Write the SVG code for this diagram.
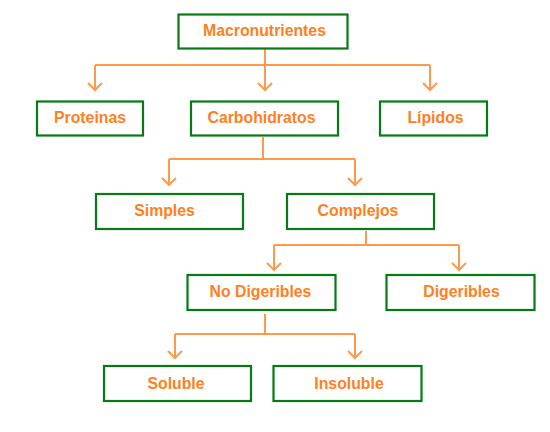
<svg xmlns="http://www.w3.org/2000/svg" width="550" height="432" viewBox="0 0 550 432">
<defs>
<style>
.box{fill:#fff;stroke:#087A14;stroke-width:2.2}
.lbl{font-family:"Liberation Sans",Arial,sans-serif;font-weight:bold;font-size:15.8px;fill:#FF8022;text-anchor:middle}
.ln{fill:none;stroke:#FF9A4C;stroke-width:2}
</style>
</defs>
<rect width="550" height="432" fill="#fff"/>
<g id="connectors">
<path class="ln" d="M265,49 V65 M95,65 H430"/>
<path class="ln" d="M95,65 V90 M88,83 L95,90 L102,83"/>
<path class="ln" d="M265,65 V90 M258,83 L265,90 L272,83"/>
<path class="ln" d="M430,65 V90 M423,83 L430,90 L437,83"/>
<path class="ln" d="M263,137 V159 M169,159 H355"/>
<path class="ln" d="M169,159 V185 M162,178 L169,185 L176,178"/>
<path class="ln" d="M355,159 V185 M348,178 L355,185 L362,178"/>
<path class="ln" d="M366,231 V245 M274,245 H459"/>
<path class="ln" d="M274,245 V270 M267,263 L274,270 L281,263"/>
<path class="ln" d="M459,245 V270 M452,263 L459,270 L466,263"/>
<path class="ln" d="M265,314 V334 M175,334 H355"/>
<path class="ln" d="M175,334 V358 M168,351 L175,358 L182,351"/>
<path class="ln" d="M355,334 V358 M348,351 L355,358 L362,351"/>
</g>
<g id="macronutrientes"><rect class="box" x="178.5" y="14.5" width="169" height="34"/><text class="lbl" x="264.5" y="36">Macronutrientes</text></g>
<g id="proteinas"><rect class="box" x="37" y="101.5" width="106" height="34"/><text class="lbl" x="90" y="123">Proteinas</text></g>
<g id="carbohidratos"><rect class="box" x="191" y="101.5" width="147" height="34"/><text class="lbl" x="261.5" y="123">Carbohidratos</text></g>
<g id="lipidos"><rect class="box" x="380" y="101.5" width="107" height="34"/><text class="lbl" x="435.5" y="123">Lípidos</text></g>
<g id="simples"><rect class="box" x="96" y="194" width="147" height="35"/><text class="lbl" x="164.5" y="216">Simples</text></g>
<g id="complejos"><rect class="box" x="287" y="194" width="147" height="35"/><text class="lbl" x="358" y="216">Complejos</text></g>
<g id="no-digeribles"><rect class="box" x="187.5" y="275" width="148" height="35"/><text class="lbl" x="260.5" y="297">No Digeribles</text></g>
<g id="digeribles"><rect class="box" x="386.5" y="275" width="148" height="35"/><text class="lbl" x="461.5" y="297">Digeribles</text></g>
<g id="soluble"><rect class="box" x="104" y="366" width="147" height="35"/><text class="lbl" x="176" y="389">Soluble</text></g>
<g id="insoluble"><rect class="box" x="273.5" y="366" width="148" height="35"/><text class="lbl" x="349" y="389">Insoluble</text></g>
</svg>
